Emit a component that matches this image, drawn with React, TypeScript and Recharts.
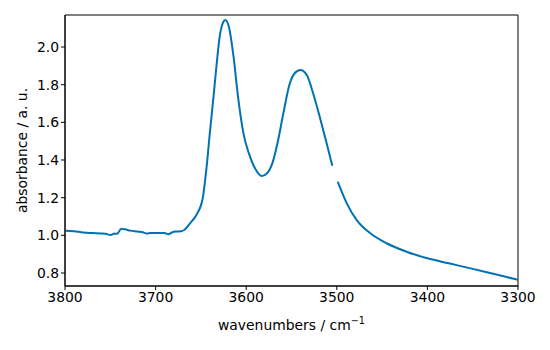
import { LineChart, Line, XAxis, YAxis, ReferenceArea, Label } from "recharts";

// IR spectrum, O-H stretching region (wavenumbers in cm^-1)
const wavenumbers = [
  3800, 3790, 3780, 3770, 3760, 3755, 3750, 3746, 3742, 3738, 3734, 3728, 3720, 3714, 3710,
  3705, 3700, 3695, 3690, 3686, 3682, 3678, 3672, 3668, 3662, 3655, 3648, 3644, 3640, 3636,
  3633, 3629, 3625, 3623, 3619, 3614, 3609, 3603, 3597, 3590, 3583, 3577, 3571, 3565, 3559,
  3552, 3545, 3540, 3533, 3526, 3519, 3511, 3505, 3502, 3499, 3489, 3478, 3463, 3445, 3423,
  3400, 3375, 3350, 3325, 3300,
];
const absorbance: (number | null)[] = [
  1.025, 1.022, 1.015, 1.012, 1.01, 1.008, 1.002, 1.008, 1.01, 1.035, 1.032, 1.025, 1.02, 1.016, 1.01,
  1.012, 1.012, 1.012, 1.013, 1.006, 1.015, 1.02, 1.022, 1.03, 1.064, 1.108, 1.197, 1.35, 1.55, 1.74,
  1.89, 2.064, 2.135, 2.144, 2.105, 1.95, 1.735, 1.54, 1.435, 1.353, 1.315, 1.33, 1.385, 1.5, 1.648,
  1.805, 1.868, 1.878, 1.85, 1.752, 1.632, 1.485, 1.37, null, 1.285, 1.17, 1.081, 1.011, 0.958, 0.913,
  0.878, 0.85, 0.822, 0.793, 0.764,
];
const xTicks = [3800, 3700, 3600, 3500, 3400, 3300];
const yTicks = [0.8, 1.0, 1.2, 1.4, 1.6, 1.8, 2.0];

const data = wavenumbers.map((wn, i) => ({ wn, a: absorbance[i] }));

const FONT = "DejaVu Sans, sans-serif";
const tickStyle = { fontSize: 13.9, fill: "#000", fontFamily: FONT };

const XLabel = ({ viewBox }: any) => {
  const cx = viewBox.x + viewBox.width / 2;
  return (
    <text x={cx} y={330} textAnchor="middle" fontFamily={FONT} fontSize={13.9} fill="#000">
      wavenumbers / cm
      <tspan fontSize={9.7} dy={-6}>−1</tspan>
    </text>
  );
};

const YLabel = ({ viewBox }: any) => {
  const cy = viewBox.y + viewBox.height / 2;
  return (
    <text
      x={27}
      y={cy}
      transform={`rotate(-90, 27, ${cy})`}
      textAnchor="middle"
      fontFamily={FONT}
      fontSize={13.9}
      fill="#000"
    >
      absorbance / a. u.
    </text>
  );
};

export default function App() {
  return (
    <div style={{ position: "absolute", left: 0, top: 0, background: "#fff" }}>
      <LineChart width={550} height={350} data={data} margin={{ top: 15, right: 32, bottom: 34, left: 0 }}>
        <XAxis
          dataKey="wn"
          type="number"
          domain={[3300, 3800]}
          reversed
          ticks={xTicks}
          tick={tickStyle}
          tickSize={4}
          height={30}
          stroke="#000"
          tickLine={{ stroke: "#000" }}
          allowDataOverflow
        >
          <Label content={<XLabel />} />
        </XAxis>
        <YAxis
          type="number"
          domain={[0.731, 2.17]}
          ticks={yTicks}
          tickFormatter={(v: number) => v.toFixed(1)}
          tick={tickStyle}
          tickSize={4}
          width={65}
          stroke="#000"
          allowDataOverflow
        >
          <Label content={<YLabel />} />
        </YAxis>
        <ReferenceArea x1={3800} x2={3300} y1={0.731} y2={2.17} fill="none" stroke="#000" strokeWidth={1} />
        <Line
          dataKey="a"
          type="monotone"
          stroke="#0072B2"
          strokeWidth={2}
          dot={false}
          connectNulls={false}
          isAnimationActive={false}
        />
      </LineChart>
    </div>
  );
}
